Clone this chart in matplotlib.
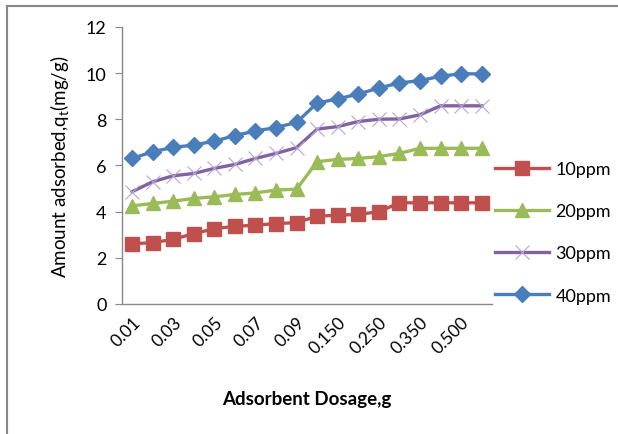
import matplotlib
matplotlib.use("Agg")
import matplotlib.pyplot as plt
from matplotlib.lines import Line2D

plt.rcParams['font.family'] = ['Lato', 'DejaVu Sans']

dosage = ["0.01", "0.02", "0.03", "0.04", "0.05", "0.06", "0.07", "0.08", "0.09",
          "0.100", "0.150", "0.200", "0.250", "0.300", "0.350", "0.400", "0.500", "0.600"]

q_10ppm = [2.61, 2.65, 2.80, 3.04, 3.26, 3.36, 3.41, 3.48, 3.52,
           3.80, 3.84, 3.88, 3.99, 4.38, 4.38, 4.38, 4.38, 4.38]
q_20ppm = [4.25, 4.35, 4.45, 4.57, 4.64, 4.74, 4.81, 4.93, 4.97,
           6.16, 6.26, 6.30, 6.38, 6.52, 6.74, 6.74, 6.74, 6.74]
q_30ppm = [4.86, 5.29, 5.55, 5.65, 5.87, 6.04, 6.30, 6.52, 6.77,
           7.57, 7.68, 7.90, 8.00, 8.01, 8.19, 8.58, 8.58, 8.58]
q_40ppm = [6.30, 6.59, 6.78, 6.88, 7.05, 7.29, 7.49, 7.64, 7.86,
           8.70, 8.88, 9.09, 9.35, 9.57, 9.67, 9.86, 9.97, 9.96]

series_labels = ["10ppm", "20ppm", "30ppm", "40ppm"]

fig = plt.figure(figsize=(6.18, 4.35), dpi=100)
ax = fig.add_axes([0.197, 0.299, 0.599, 0.637])

x = list(range(len(dosage)))
ax.plot(x, q_10ppm, color='#C0504D', lw=2.4, marker='s', ms=9.5,
        mfc='#C0504D', mec='#C0504D', label=series_labels[0])
ax.plot(x, q_20ppm, color='#9BBB59', lw=2.4, marker='^', ms=10.5,
        mfc='#9BBB59', mec='#9BBB59', label=series_labels[1])
ax.plot(x, q_30ppm, color='#8064A2', lw=2.4, marker='x', ms=10.5,
        mew=0.8, mec='#B7A6D0', label=series_labels[2])
ax.plot(x, q_40ppm, color='#4A7EBB', lw=2.4, marker='D', ms=8.5,
        mfc='#4A7EBB', mec='#4A7EBB', label=series_labels[3])

ax.set_xlim(-0.5, len(dosage) - 0.5)
ax.set_ylim(0, 12)
ax.set_yticks(range(0, 13, 2))
ax.set_xticks(x[::2])
ax.set_xticklabels(dosage[::2], rotation=45, ha='right', rotation_mode='anchor',
                   fontsize=12.5)
ax.tick_params(axis='x', length=0, pad=7)
ax.tick_params(axis='y', labelsize=13, length=5, color='#888888', direction='out',
               pad=6)

for s in ['top', 'right']:
    ax.spines[s].set_visible(False)
for s in ['left', 'bottom']:
    ax.spines[s].set_color('#888888')
    ax.spines[s].set_linewidth(1.0)

ax.set_ylabel(r"Amount adsorbed,q$_\mathregular{t}$(mg/g)", fontsize=13.5,
              labelpad=10)
ax.set_xlabel("Adsorbent Dosage,g", fontsize=13.5, fontweight='bold', labelpad=24)

leg = ax.legend(loc='upper left', bbox_to_anchor=(0.775, 0.665),
                bbox_transform=fig.transFigure, frameon=False, fontsize=13,
                handlelength=3.0, labelspacing=1.45, handletextpad=0.35)

# frame lines around the chart area
fig.add_artist(Line2D([0.011, 1.0], [0.984, 0.984], transform=fig.transFigure,
                      color='#888888', lw=1.5))
fig.add_artist(Line2D([0.011, 0.011], [0.0, 0.984], transform=fig.transFigure,
                      color='#888888', lw=1.5))

fig.savefig("out.png", dpi=100, facecolor='white')
